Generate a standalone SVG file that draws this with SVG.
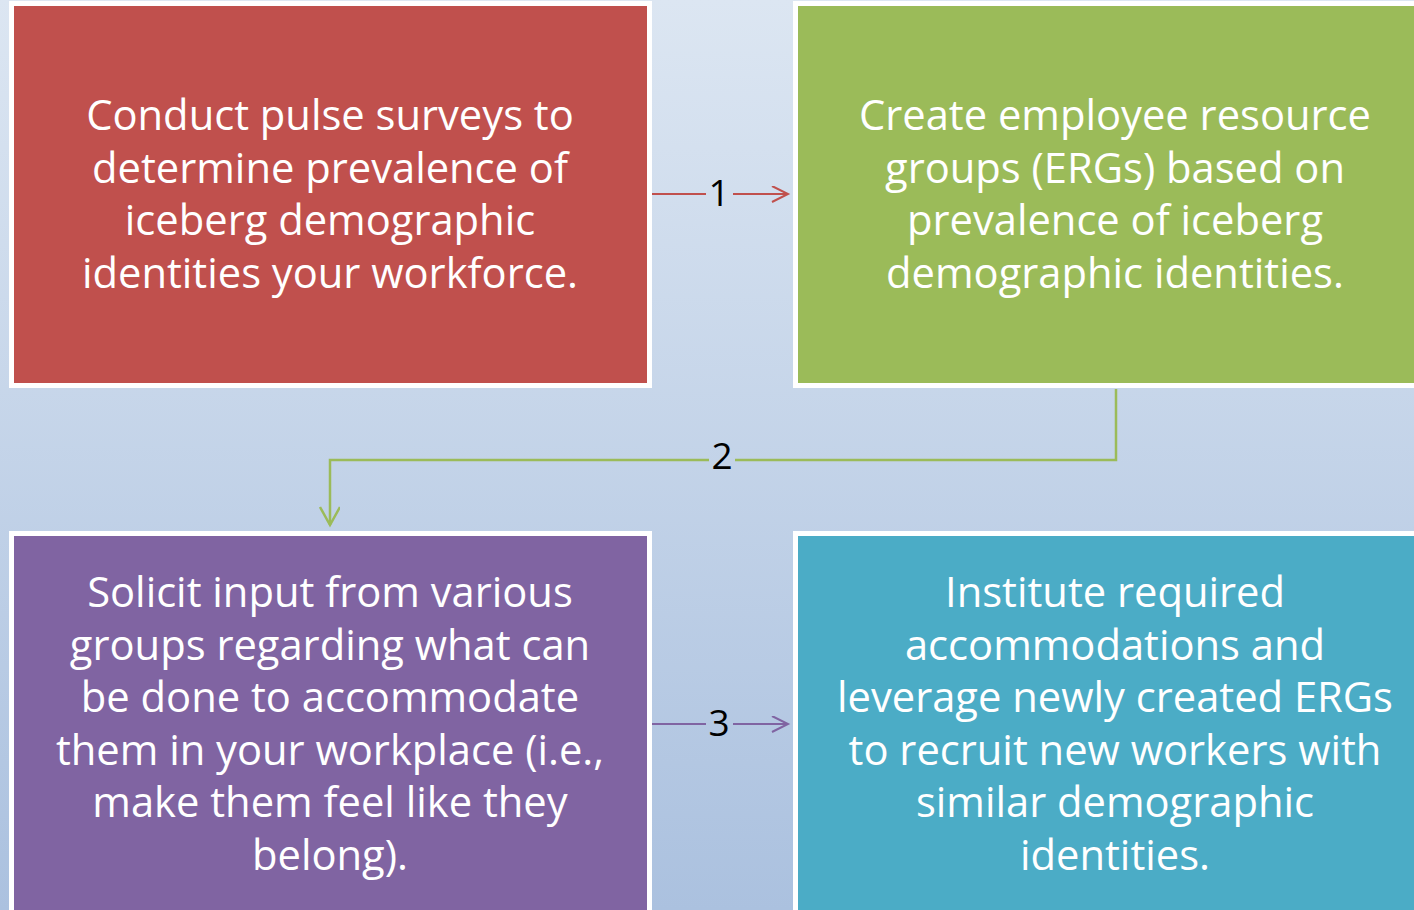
<svg xmlns="http://www.w3.org/2000/svg" width="1414" height="910" viewBox="0 0 1414 910">
<defs>
<linearGradient id="bg" x1="0" y1="0" x2="0" y2="1">
<stop offset="0" stop-color="#dce6f2"/>
<stop offset="1" stop-color="#abc1df"/>
</linearGradient>
<marker id="arR" markerWidth="20" markerHeight="20" refX="17" refY="8" orient="auto" markerUnits="userSpaceOnUse"><path d="M1,0 L17,8 L1,16" fill="none" stroke="#c0504d" stroke-width="2"/></marker>
<marker id="arG" markerWidth="24" markerHeight="24" refX="19" refY="10" orient="auto" markerUnits="userSpaceOnUse"><path d="M1,0 L19,10 L1,20" fill="none" stroke="#9bbb59" stroke-width="2.5"/></marker>
<marker id="arP" markerWidth="20" markerHeight="20" refX="17" refY="8" orient="auto" markerUnits="userSpaceOnUse"><path d="M1,0 L17,8 L1,16" fill="none" stroke="#8064a2" stroke-width="2"/></marker>
</defs>
<style>
.box{stroke:#ffffff;stroke-width:5}
.t{font-family:"Open Sans","Noto Sans",sans-serif;font-size:41.7px;fill:#ffffff;text-anchor:middle}
.n{font-family:"Open Sans","Noto Sans",sans-serif;font-size:37px;fill:#000000;text-anchor:middle}
.c{fill:none}
</style>
<rect x="0" y="0" width="1414" height="910" fill="url(#bg)"/>
<g id="node1">
<rect class="box" x="11.5" y="3.5" width="638" height="382" fill="#c0504d"/>
<text class="t"><tspan x="330" y="130">Conduct pulse surveys to</tspan><tspan x="330" y="183">determine prevalence of</tspan><tspan x="330" y="235">iceberg demographic</tspan><tspan x="330" y="288">identities your workforce.</tspan></text>
</g>
<g id="node2">
<rect class="box" x="795.5" y="3.5" width="640" height="382" fill="#9bbb59"/>
<text class="t"><tspan x="1115" y="130">Create employee resource</tspan><tspan x="1115" y="183">groups (ERGs) based on</tspan><tspan x="1115" y="235">prevalence of iceberg</tspan><tspan x="1115" y="288">demographic identities.</tspan></text>
</g>
<g id="node3">
<rect class="box" x="11.5" y="533.5" width="638" height="400" fill="#8064a2"/>
<text class="t"><tspan x="330" y="607">Solicit input from various</tspan><tspan x="330" y="660">groups regarding what can</tspan><tspan x="330" y="712">be done to accommodate</tspan><tspan x="330" y="765">them in your workplace (i.e.,</tspan><tspan x="330" y="817">make them feel like they</tspan><tspan x="330" y="870">belong).</tspan></text>
</g>
<g id="node4">
<rect class="box" x="795.5" y="533.5" width="640" height="400" fill="#4bacc6"/>
<text class="t"><tspan x="1115" y="607">Institute required</tspan><tspan x="1115" y="660">accommodations and</tspan><tspan x="1115" y="712">leverage newly created ERGs</tspan><tspan x="1115" y="765">to recruit new workers with</tspan><tspan x="1115" y="817">similar demographic</tspan><tspan x="1115" y="870">identities.</tspan></text>
</g>
<g id="connectors">
<path class="c" d="M652,194 H706" stroke="#c0504d" stroke-width="2"/>
<path class="c" d="M733,194 H788" stroke="#c0504d" stroke-width="2" marker-end="url(#arR)"/>
<text class="n" x="719" y="206">1</text>
<path class="c" d="M1116,389 V460 H735" stroke="#9bbb59" stroke-width="2.5"/>
<path class="c" d="M709,460 H330 V525" stroke="#9bbb59" stroke-width="2.5" marker-end="url(#arG)"/>
<text class="n" x="722" y="469">2</text>
<path class="c" d="M652,724 H706" stroke="#8064a2" stroke-width="2"/>
<path class="c" d="M733,724 H788" stroke="#8064a2" stroke-width="2" marker-end="url(#arP)"/>
<text class="n" x="719" y="736">3</text>
</g>
</svg>
